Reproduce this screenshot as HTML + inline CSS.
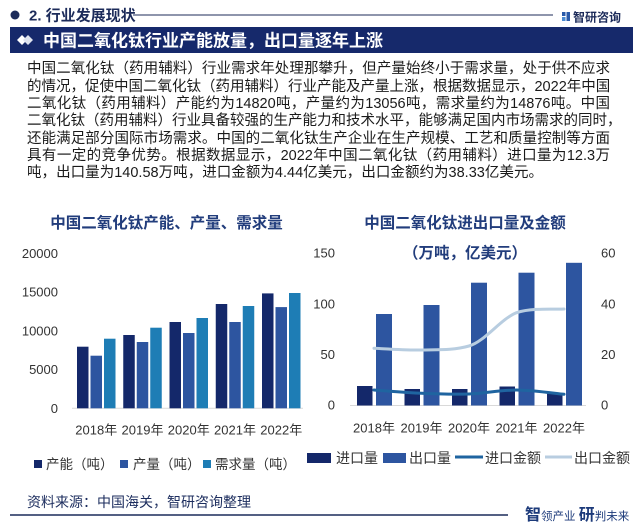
<!DOCTYPE html>
<html><head><meta charset="utf-8">
<style>
html,body{margin:0;padding:0;background:#fff;}
body{width:636px;height:525px;position:relative;overflow:hidden;font-family:"Liberation Sans","Noto Sans CJK SC",sans-serif;}
svg{position:absolute;left:0;top:0;}
.p{position:absolute;left:27px;font-size:14.5px;line-height:17.3px;height:17.3px;color:#1a1a1a;white-space:nowrap;text-align:justify;text-align-last:justify;font-family:"Liberation Sans","Noto Sans CJK SC",sans-serif;}
</style></head><body>
<svg width="636" height="525" viewBox="0 0 636 525" xmlns="http://www.w3.org/2000/svg" font-family="Liberation Sans, Noto Sans CJK SC, sans-serif">
  <!-- header -->
  <circle cx="15" cy="15" r="4.5" fill="#1c2b5a"/>
  <text x="29" y="20.5" font-size="15" font-weight="bold" fill="#1c2b5a">2. 行业发展现状</text>
  <line x1="133" y1="15" x2="553" y2="15" stroke="#1c2b5a" stroke-width="1"/>
  <g>
    <rect x="562" y="12" width="3.5" height="4" fill="#2a5aa8"/>
    <rect x="566.5" y="12" width="3.5" height="9" fill="#2a5aa8"/>
    <rect x="562" y="17" width="3.5" height="4" fill="#4a8ad0"/>
  </g>
  <text x="573" y="21.5" font-size="12" font-weight="bold" fill="#1c2b5a">智研咨询</text>
  <rect x="10" y="27" width="623" height="26" fill="#16296b"/>
  <polygon points="22,35 27,40 22,45 17,40" fill="#ffffff"/>
  <polygon points="28,35 33,40 28,45 23,40" fill="#dfe4ee"/>
  <text x="43" y="46.3" font-size="17" font-weight="bold" fill="#ffffff">中国二氧化钛行业产能放量，出口量逐年上涨</text>

  <!-- left chart -->
  <text x="166.5" y="228" font-size="15.5" font-weight="bold" fill="#223d7c" text-anchor="middle">中国二氧化钛产能、产量、需求量</text>
  <g font-size="13" fill="#333" text-anchor="end">
    <text x="58" y="258">20000</text>
    <text x="58" y="296.7">15000</text>
    <text x="58" y="335.4">10000</text>
    <text x="58" y="374.2">5000</text>
    <text x="58" y="413">0</text>
  </g>
  <line x1="72" y1="408.3" x2="303" y2="408.3" stroke="#d9d9d9" stroke-width="1"/>
  <g>
    <rect x="77" y="346.7" width="11.5" height="61.6" fill="#14286a"/>
    <rect x="90.5" y="355.7" width="11.5" height="52.6" fill="#2d55a0"/>
    <rect x="104" y="338.7" width="11.5" height="69.6" fill="#1e7db5"/>
    <rect x="123.25" y="335" width="11.5" height="73.3" fill="#14286a"/>
    <rect x="136.75" y="342" width="11.5" height="66.3" fill="#2d55a0"/>
    <rect x="150.25" y="327.7" width="11.5" height="80.6" fill="#1e7db5"/>
    <rect x="169.5" y="322" width="11.5" height="86.3" fill="#14286a"/>
    <rect x="183" y="333" width="11.5" height="75.3" fill="#2d55a0"/>
    <rect x="196.5" y="318" width="11.5" height="90.3" fill="#1e7db5"/>
    <rect x="215.75" y="304" width="11.5" height="104.3" fill="#14286a"/>
    <rect x="229.25" y="322" width="11.5" height="86.3" fill="#2d55a0"/>
    <rect x="242.75" y="306" width="11.5" height="102.3" fill="#1e7db5"/>
    <rect x="262" y="293.4" width="11.5" height="114.9" fill="#14286a"/>
    <rect x="275.5" y="307.1" width="11.5" height="101.2" fill="#2d55a0"/>
    <rect x="289" y="293" width="11.5" height="115.3" fill="#1e7db5"/>
  </g>
  <g font-size="13" fill="#333" text-anchor="middle">
    <text x="96.25" y="434.7">2018年</text>
    <text x="142.5" y="434.7">2019年</text>
    <text x="188.75" y="434.7">2020年</text>
    <text x="235" y="434.7">2021年</text>
    <text x="281.25" y="434.7">2022年</text>
  </g>
  <rect x="34" y="460" width="8" height="8" fill="#14286a"/>
  <text x="46" y="469" font-size="13.5" fill="#333">产能（吨）</text>
  <rect x="120" y="460" width="8" height="8" fill="#2d55a0"/>
  <text x="133" y="469" font-size="13.5" fill="#333">产量（吨）</text>
  <rect x="203" y="460" width="8" height="8" fill="#1e7db5"/>
  <text x="215" y="469" font-size="13.5" fill="#333">需求量（吨）</text>

  <!-- right chart -->
  <text x="465" y="228" font-size="15.5" font-weight="bold" fill="#223d7c" text-anchor="middle">中国二氧化钛进出口量及金额</text>
  <text x="465" y="258" font-size="15.5" font-weight="bold" fill="#223d7c" text-anchor="middle">（万吨，亿美元）</text>
  <g font-size="13" fill="#333" text-anchor="end">
    <text x="335" y="257.7">150</text>
    <text x="335" y="308.4">100</text>
    <text x="335" y="359">50</text>
    <text x="335" y="409.7">0</text>
  </g>
  <g font-size="13" fill="#333">
    <text x="601" y="257.7">60</text>
    <text x="601" y="308.4">40</text>
    <text x="601" y="359">20</text>
    <text x="601" y="409.7">0</text>
  </g>
  <line x1="350" y1="405.5" x2="586" y2="405.5" stroke="#d9d9d9" stroke-width="1"/>
  <g>
    <rect x="357" y="386" width="15.5" height="19.5" fill="#14286a"/>
    <rect x="376" y="314" width="16" height="91.5" fill="#2d55a0"/>
    <rect x="404.5" y="389" width="15.5" height="16.5" fill="#14286a"/>
    <rect x="423.5" y="305" width="16" height="100.5" fill="#2d55a0"/>
    <rect x="452" y="389" width="15.5" height="16.5" fill="#14286a"/>
    <rect x="471" y="282.7" width="16" height="122.8" fill="#2d55a0"/>
    <rect x="499.5" y="386.5" width="15.5" height="19" fill="#14286a"/>
    <rect x="518.5" y="272.7" width="16" height="132.8" fill="#2d55a0"/>
    <rect x="547" y="393.5" width="15.5" height="12" fill="#14286a"/>
    <rect x="566" y="262.8" width="16" height="142.7" fill="#2d55a0"/>
  </g>
  <path d="M374,348.3 C381.9,348.6 405.7,350.4 421.5,350 C437.3,349.6 453.2,350.5 469,346 C484.8,341.5 500.7,318.9 516.5,312.7 C532.3,307.5 556.1,309.6 564,309" fill="none" stroke="#b8cde0" stroke-width="3" stroke-linecap="round"/>
  <path d="M374,390 C381.9,390.5 405.7,392.6 421.5,393.3 C437.3,394 453.2,394.5 469,394 C484.8,393.4 500.7,390 516.5,390 C532.3,390 556.1,393.6 564,394.3" fill="none" stroke="#1f64a0" stroke-width="3" stroke-linecap="round"/>
  <g font-size="13" fill="#333" text-anchor="middle">
    <text x="374" y="432.7">2018年</text>
    <text x="421.5" y="432.7">2019年</text>
    <text x="469" y="432.7">2020年</text>
    <text x="516.5" y="432.7">2021年</text>
    <text x="564" y="432.7">2022年</text>
  </g>
  <rect x="307" y="453" width="24" height="10" fill="#14286a"/>
  <text x="336" y="463" font-size="14" fill="#333">进口量</text>
  <rect x="383" y="453" width="23" height="10" fill="#2d55a0"/>
  <text x="409" y="463" font-size="14" fill="#333">出口量</text>
  <line x1="455" y1="457" x2="483" y2="457" stroke="#1f64a0" stroke-width="3"/>
  <text x="485" y="463" font-size="14" fill="#333">进口金额</text>
  <line x1="545" y1="457" x2="572" y2="457" stroke="#b8cde0" stroke-width="3"/>
  <text x="574" y="463" font-size="14" fill="#333">出口金额</text>

  <!-- footer -->
  <text x="27" y="507" font-size="14" fill="#1c2d5e">资料来源：中国海关，智研咨询整理</text>
  <line x1="10" y1="515" x2="508" y2="515" stroke="#1c2b5a" stroke-width="1.5"/>
  <text x="525" y="520" fill="#1c3a7a"><tspan font-size="16" font-weight="bold">智</tspan><tspan font-size="11.5">领产业 </tspan><tspan font-size="16" font-weight="bold">研</tspan><tspan font-size="11.5">判未来</tspan></text>
</svg>

<div class="p" style="top:61.4px;width:583px;">中国二氧化钛（药用辅料）行业需求年处理那攀升，但产量始终小于需求量，处于供不应求</div>
<div class="p" style="top:78.7px;width:583px;">的情况，促使中国二氧化钛（药用辅料）行业产能及产量上涨，根据数据显示，2022年中国</div>
<div class="p" style="top:96px;width:583px;">二氧化钛（药用辅料）产能约为14820吨，产量约为13056吨，需求量约为14876吨。中国</div>
<div class="p" style="top:113.3px;width:583px;">二氧化钛（药用辅料）行业具备较强的生产能力和技术水平，能够满足国内市场需求的同时，</div>
<div class="p" style="top:130.6px;width:583px;">还能满足部分国际市场需求。中国的二氧化钛生产企业在生产规模、工艺和质量控制等方面</div>
<div class="p" style="top:147.9px;width:583px;">具有一定的竞争优势。根据数据显示，2022年中国二氧化钛（药用辅料）进口量为12.3万</div>
<div class="p" style="top:165.2px;width:516px;">吨，出口量为140.58万吨，进口金额为4.44亿美元，出口金额约为38.33亿美元。</div>
</body></html>
